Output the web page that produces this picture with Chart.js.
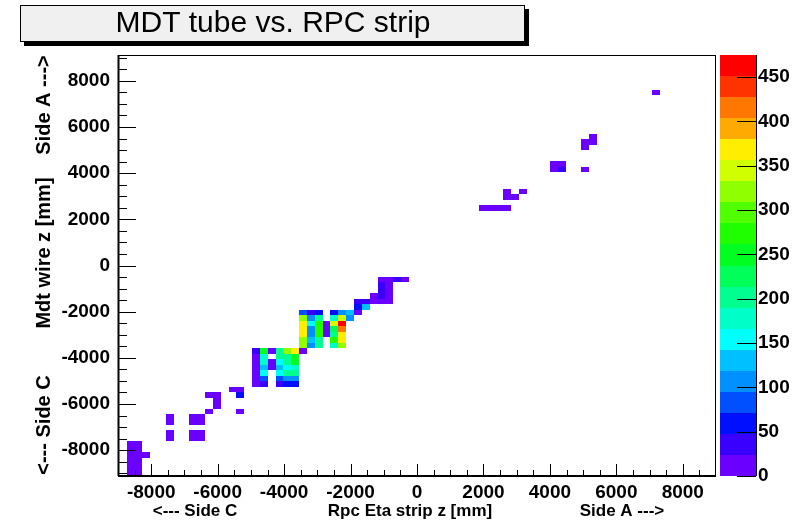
<!DOCTYPE html>
<html><head><meta charset="utf-8">
<script src="https://cdn.jsdelivr.net/npm/chart.js@4.4.0/dist/chart.umd.min.js"></script>
<style>html,body{margin:0;padding:0;background:#fff;overflow:hidden}</style>
</head><body>
<canvas id="c" width="810" height="523"></canvas>
<script>
// ---------- text ----------
const chartTitle = 'MDT tube vs. RPC strip';
const xTitleParts = ['<--- Side C', 'Rpc Eta strip z [mm]', 'Side A --->'];
const yTitleParts = ['<--- Side C', 'Mdt wire z [mm]', 'Side A --->'];
// ---------- tick labels ----------
const xTickLabels = [-8000, -6000, -4000, -2000, 0, 2000, 4000, 6000, 8000];
const yTickLabels = [-8000, -6000, -4000, -2000, 0, 2000, 4000, 6000, 8000];
const zTickLabels = [0, 50, 100, 150, 200, 250, 300, 350, 400, 450];
// ---------- histogram binning ----------
const binWidthX = 236;   // mm
const binWidthY = 238;   // mm
const zMax = 475;
const paletteColors = ['#6a00ff','#3a00ff','#0010ff','#0050ff','#0090ff','#00c0ff','#00ffff','#00ffc8','#00ff90','#00ff58',
                       '#00ff20','#20ff00','#50ff00','#90ff00','#d0ff00','#ffee00','#ffaa00','#ff7700','#ff3300','#ff0000'];
// ---------- cells: centre x (RPC strip z), centre y (MDT wire z), entries ----------
const cellX = [
  // bottom-left cluster
  -8622,-8386,-8622,-8386,-8622,-8386,-8150,-8622,-8386,-8622,-8386,-8622,-8386,-8622,-8386,
  // -7500 .. -6500
  -7442,-7442,-7442,-7442,-6734,-6498,-6734,-6498,-6734,-6498,-6734,-6498,
  // -6300 .. -5300
  -6262,-6026,-6026,-6026,-6262,-5554,-5318,-5318,-5318,
  // lower dense block
  -4846,-4610,-4374,-4138,-3902,-3666,-3430,
  -4846,-4610,-4138,-3902,-3666,
  -4846,-4610,-4374,-4138,-3902,-3666,
  -4846,-4610,-4374,-4138,-3902,-3666,
  -4846,-4610,-4138,-3902,-3666,
  -4846,-4610,-4138,-3902,-3666,
  -4846,-4610,-4138,-3902,-3666,
  // upper dense block
  -3430,-3194,-2958,-2486,-2250,-2014,-1778,
  -3430,-3194,-2958,-2486,-2250,-2014,
  -3430,-3194,-2958,-2722,-2486,-2250,
  -3430,-3194,-2958,-2722,-2486,-2250,
  -3430,-3194,-2958,-2722,-2486,-2250,
  -3430,-3194,-2958,-2486,-2250,
  -3430,-3194,-2958,-2486,-2250,
  // around -1000
  -1070,-834,-598,-362,
  -1070,-834,
  -1070,-834,
  -1306,-1070,-834,
  -1778,-1542,-1306,-1070,-834,
  -1778,-1542,
  // side A
  1998,2234,2470,2706,
  2706,3178,
  2706,2942,
  4122,4358,
  4122,4358,5066,
  5066,5302,
  5066,
  5302,
  7190
];
const cellY = [
  -7743,-7743,-7981,-7981,-8219,-8219,-8219,-8457,-8457,-8695,-8695,-8933,-8933,-9171,-9171,
  -6553,-6791,-7267,-7505,-6553,-6553,-6791,-6791,-7267,-7267,-7505,-7505,
  -5601,-5601,-5839,-6077,-6315,-5363,-5363,-5601,-6315,
  -3697,-3697,-3697,-3697,-3697,-3697,-3697,
  -3935,-3935,-3935,-3935,-3935,
  -4173,-4173,-4173,-4173,-4173,-4173,
  -4411,-4411,-4411,-4411,-4411,-4411,
  -4649,-4649,-4649,-4649,-4649,
  -4887,-4887,-4887,-4887,-4887,
  -5125,-5125,-5125,-5125,-5125,
  -2031,-2031,-2031,-2031,-2031,-2031,-2031,
  -2269,-2269,-2269,-2269,-2269,-2269,
  -2507,-2507,-2507,-2507,-2507,-2507,
  -2745,-2745,-2745,-2745,-2745,-2745,
  -2983,-2983,-2983,-2983,-2983,-2983,
  -3221,-3221,-3221,-3221,-3221,
  -3459,-3459,-3459,-3459,-3459,
  -603,-603,-603,-603,
  -841,-841,
  -1079,-1079,
  -1317,-1317,-1317,
  -1555,-1555,-1555,-1555,-1555,
  -1793,-1793,
  2491,2491,2491,2491,
  3205,3205,
  2967,2967,
  4395,4395,
  4157,4157,4157,
  5347,5347,
  5109,
  5585,
  7489
];
const cellCount = [
  9,11,12,10,8,14,6,10,12,9,11,13,10,9,8,
  7,6,8,7,10,9,11,12,9,10,8,11,
  9,10,12,11,8,7,9,70,6,
  36,250,12,202,321,369,10,
  10,178,190,210,255,
  12,175,14,160,205,250,
  11,131,13,135,158,180,
  9,155,150,205,200,
  12,85,88,105,110,
  10,36,40,60,62,
  85,38,62,60,108,130,12,
  320,110,205,180,345,105,
  370,158,275,15,340,470,
  365,112,272,14,228,415,
  368,108,270,12,200,372,
  322,132,206,275,366,
  318,110,200,182,325,
  10,12,35,11,
  38,12,
  36,10,
  9,37,11,
  34,36,12,10,11,
  60,130,
  8,9,7,10,
  9,8,
  10,9,
  11,10,
  12,35,8,
  9,10,
  8,
  9,
  10
];

const cells = cellX.map((x, i) => ({x: x, y: cellY[i], v: cellCount[i]}));
function colourFor(v) {
  let b = Math.floor(v / zMax * paletteColors.length);
  if (b < 0) b = 0; if (b > paletteColors.length - 1) b = paletteColors.length - 1;
  return paletteColors[b];
}

const FONT = "'Liberation Sans', Arial, Helvetica, sans-serif";

const cellPlugin = {
  id: 'cells',
  beforeDatasetsDraw(chart) {
    const {ctx, chartArea: a, scales: {x, y}} = chart;
    ctx.save();
    ctx.beginPath(); ctx.rect(a.left, a.top, a.right - a.left, a.bottom - a.top); ctx.clip();
    chart.data.datasets[0].data.forEach(c => {
      const x0 = Math.round(x.getPixelForValue(c.x - binWidthX / 2));
      const x1 = Math.round(x.getPixelForValue(c.x + binWidthX / 2));
      const y0 = Math.round(y.getPixelForValue(c.y + binWidthY / 2));
      const y1 = Math.round(y.getPixelForValue(c.y - binWidthY / 2));
      ctx.fillStyle = colourFor(c.v);
      ctx.fillRect(x0, y0, x1 - x0, y1 - y0);
    });
    ctx.restore();
  }
};

const decorPlugin = {
  id: 'decor',
  afterDraw(chart) {
    const {ctx, chartArea: a, scales: {x, y, z}} = chart;
    ctx.save();
    // frame
    ctx.strokeStyle = '#000'; ctx.lineWidth = 1;
    ctx.strokeRect(a.left + 0.5, a.top + 0.5, a.right - a.left - 1, a.bottom - a.top);
    // y ticks (inside)
    ctx.beginPath();
    for (let v = -9000; v <= 9000; v += 500) {
      const p = Math.round(y.getPixelForValue(v)) + 0.5;
      if (p < a.top || p > a.bottom) continue;
      const len = (v % 2000 === 0) ? 18 : 9;
      ctx.moveTo(a.left, p); ctx.lineTo(a.left + len, p);
    }
    // x ticks (inside)
    for (let v = -9000; v <= 9000; v += 500) {
      const p = Math.round(x.getPixelForValue(v)) + 0.5;
      if (p < a.left || p > a.right) continue;
      const len = (v % 2000 === 0) ? 12 : 6;
      ctx.moveTo(p, a.bottom); ctx.lineTo(p, a.bottom - len);
    }
    ctx.stroke();
    // axis lines
    ctx.lineWidth = 2;
    ctx.beginPath();
    ctx.moveTo(a.left, a.bottom); ctx.lineTo(a.right, a.bottom);
    ctx.moveTo(a.left + 0.5, a.top); ctx.lineTo(a.left + 0.5, a.bottom);
    ctx.stroke();

    // colour bar
    const bx0 = 720, bx1 = 756;
    for (let i = 0; i < paletteColors.length; i++) {
      const yTop = z.getPixelForValue((i + 1) * zMax / paletteColors.length);
      const yBot = z.getPixelForValue(i * zMax / paletteColors.length);
      ctx.fillStyle = paletteColors[i];
      ctx.fillRect(bx0, Math.round(yTop), bx1 - bx0, Math.round(yBot) - Math.round(yTop));
    }
    ctx.strokeStyle = '#000'; ctx.lineWidth = 1;
    ctx.beginPath();
    ctx.moveTo(bx1 + 0.5, z.top); ctx.lineTo(bx1 + 0.5, z.bottom);
    zTickLabels.forEach(v => {
      const p = Math.round(z.getPixelForValue(v)) + 0.5;
      ctx.moveTo(bx1 - 19, p); ctx.lineTo(bx1, p);
    });
    ctx.stroke();

    // axis titles
    ctx.fillStyle = '#000';
    ctx.textAlign = 'center'; ctx.textBaseline = 'middle';
    ctx.font = 'bold 17px ' + FONT;
    const xc = [195, 410, 622];
    xTitleParts.forEach((t, i) => ctx.fillText(t, xc[i], 511));
    ctx.font = 'bold 20px ' + FONT;
    const yc = [425, 253, 105];
    yTitleParts.forEach((t, i) => {
      ctx.save(); ctx.translate(44, yc[i]); ctx.rotate(-Math.PI / 2);
      ctx.fillText(t, 0, 0); ctx.restore();
    });

    // title box
    ctx.fillStyle = '#000';
    ctx.fillRect(24, 9, 505, 37);
    ctx.fillStyle = '#f0f0f0';
    ctx.fillRect(20, 5, 505, 37);
    ctx.strokeStyle = '#000'; ctx.lineWidth = 1;
    ctx.strokeRect(20.5, 5.5, 504, 36);
    ctx.fillStyle = '#000';
    ctx.font = '30px ' + FONT;
    ctx.fillText(chartTitle, 273, 24);
    ctx.restore();
  }
};

const tickFont = {family: FONT, size: 19, weight: 'bold'};
const plain = v => String(v);
new Chart(document.getElementById('c').getContext('2d'), {
  type: 'scatter',
  data: {datasets: [{label: 'entries', data: cells, pointRadius: 0, pointHoverRadius: 0, showLine: false}]},
  options: {
    responsive: false, animation: false, devicePixelRatio: 1,
    layout: {padding: {top: 55, left: 0, right: 0, bottom: 0}},
    plugins: {legend: {display: false}, tooltip: {enabled: false}, title: {display: false}},
    events: [],
    scales: {
      x: {
        type: 'linear', position: 'bottom', min: -9000, max: 9000,
        grid: {display: false, drawTicks: false}, border: {display: false},
        afterBuildTicks: s => { s.ticks = xTickLabels.map(v => ({value: v})); },
        afterFit: s => { s.height = 47; },
        ticks: {autoSkip: false, maxRotation: 0, minRotation: 0, padding: 5, color: '#000', font: tickFont, callback: plain}
      },
      y: {
        type: 'linear', position: 'left', min: -9120, max: 9120,
        grid: {display: false, drawTicks: false}, border: {display: false},
        afterBuildTicks: s => { s.ticks = yTickLabels.map(v => ({value: v})); },
        afterFit: s => { s.width = 118; },
        ticks: {autoSkip: false, padding: 8, color: '#000', font: tickFont, callback: plain}
      },
      z: {
        type: 'linear', position: 'right', min: 0, max: zMax,
        grid: {display: false, drawTicks: true, tickLength: 40}, border: {display: false},
        afterBuildTicks: s => { s.ticks = zTickLabels.map(v => ({value: v})); },
        afterFit: s => { s.width = 94; },
        ticks: {autoSkip: false, padding: 2, color: '#000', font: tickFont, callback: plain}
      }
    }
  },
  plugins: [cellPlugin, decorPlugin]
});
</script>
</body></html>
